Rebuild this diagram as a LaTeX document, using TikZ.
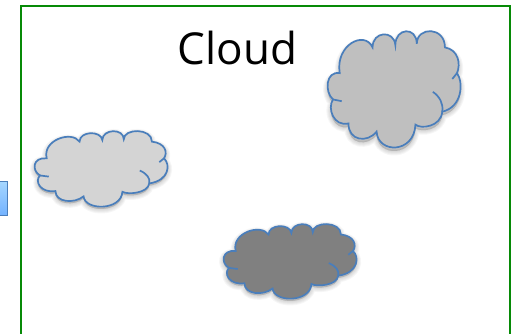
\documentclass[tikz,border=0pt]{standalone}
\usepackage{fontspec}
\setmainfont{Open Sans}
\usepackage{xcolor}
\usetikzlibrary{calc}

\definecolor{framegreen}{HTML}{078A07}
\definecolor{cloudblue}{HTML}{4A7EBB}
\newcommand{\cloudoutline}{(9.5,36) .. controls (6,12) and (28,-1) .. (34,14)
    .. controls (34,0) and (50,-1) .. (51,12)
    .. controls (51,-3) and (67,-4) .. (67,11)
    .. controls (67,-4) and (88,-4) .. (88,14)
    .. controls (98,16) and (100,28) .. (97,36)
    .. controls (102,44) and (101,65) .. (86,69)
    .. controls (85,82) and (70,84) .. (66,80)
    .. controls (65,105) and (38,105) .. (37,86)
    .. controls (30,96) and (16,94) .. (16,79)
    .. controls (5,82) and (0,66) .. (4.5,58.5)
    .. controls (-2,52) and (-1,34) .. (9.5,36) -- cycle}

\tikzset{
    cloudshape/.pic={
        % soft shadow
        \foreach \w in {9,7,5,3,1}
            \fill[black, opacity=0.035, draw=black, line width=\w pt, yshift=-3pt] \cloudoutline;
        \path[fill=cloudfill] \cloudoutline;
        \draw[cloudline] \cloudoutline;
        % ticks inside the lobes
        \draw[cloudline] (79,52) .. controls (84,56) and (87,62) .. (86,69);
        \draw[cloudline] (97,36) -- (93.5,41);
        \draw[cloudline] (4.5,58.5) -- (11,60);
    },
    cloudline/.style={draw=cloudblue, line width=1.7pt},
    frameline/.style={draw=framegreen, line width=2pt},
    linkbox/.style={draw=cloudblue, line width=0.9pt,
        top color=blue!45!cyan!35!white, bottom color=blue!55!cyan!55!white}
}

\begin{document}
\begin{tikzpicture}[x=1pt, y=-1pt]
    \useasboundingbox (0,0) rectangle (516,334);

    % Frame, open at the bottom
    \draw[frameline] (21,334) -- (21,6.5) -- (510,6.5) -- (510,334);
    \node[font=\fontsize{44}{48}\selectfont, text=black, inner sep=0pt] (cloudtitle) at (237.5,48) {Cloud};

    % Box cut by the left edge
    \path[linkbox] (-3,181) rectangle (7.5,215.5);

    % Clouds
    \colorlet{cloudfill}{black!17}
    \pic[xscale=1.34, yscale=0.76] (cloudleft) at (34,131) {cloudshape};
    \colorlet{cloudfill}{black!25}
    \pic[xscale=1.34, yscale=1.17] (cloudtop) at (327,31) {cloudshape};
    \colorlet{cloudfill}{black!50}
    \pic[xscale=1.34, yscale=0.75] (cloudbottom) at (223,224) {cloudshape};
\end{tikzpicture}
\end{document}
